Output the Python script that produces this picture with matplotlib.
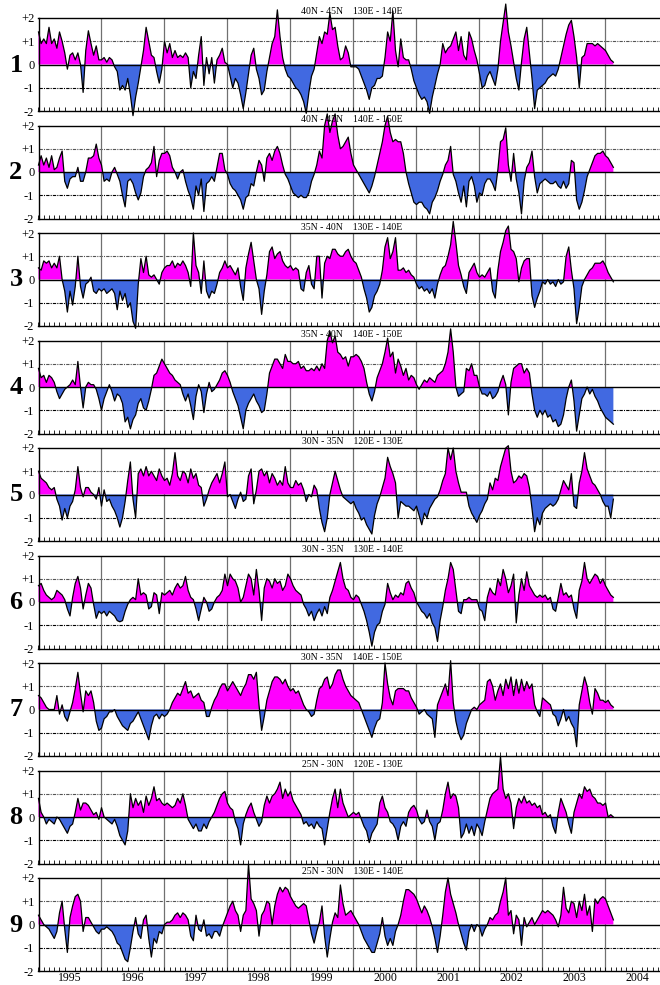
import numpy as np
import matplotlib.pyplot as plt

# títulos de cada painel (faixa de latitude / longitude)
titulos = ['40N - 45N    130E - 140E', '40N - 45N    140E - 150E',
           '35N - 40N    130E - 140E', '35N - 40N    140E - 150E',
           '30N - 35N    120E - 130E', '30N - 35N    130E - 140E',
           '30N - 35N    140E - 150E', '25N - 30N    120E - 130E',
           '25N - 30N    130E - 140E']
anos = ['1995', '1996', '1997', '1998', '1999', '2000', '2001', '2002', '2003', '2004']

# anomalias, 24 valores por ano (meio mês), jan/1995 até fev/2004
p1 = [1.4, 0.9, 1.1, 0.9, 1.6, 0.9, 1.1, 0.7, 1.4, 1.0, 0.5, -0.2, 0.4, 0.5, 0.2, 0.5, 0.0, -1.2, 0.6, 1.45, 0.9, 0.4, 0.8, 0.2,
      0.2, 0.3, 0.1, 0.3, 0.2, -0.1, -0.3, -1.1, -0.9, -1.1, -0.6, -1.3, -2.2, -1.4, -0.8, -0.1, 0.6, 1.6, 1.0, 0.4, 0.3, -0.3, -0.8, -0.2,
      1.0, 0.5, 0.9, 0.3, 0.6, 0.3, 0.4, 0.3, 0.5, 0.3, -1.0, -0.3, -0.6, 0.4, 1.2, -0.9, 0.3, -0.4, 0.3, -0.8, 0.2, 0.4, 0.7, 0.1,
      0.0, -0.5, -1.0, -0.6, -0.8, -1.3, -1.9, -1.2, -0.4, 0.4, 0.7, -0.2, -0.6, -1.3, -1.1, -0.3, 0.3, 0.9, 1.2, 2.35, 1.2, 0.3, -0.2, -0.5,
      -0.6, -0.8, -1.0, -1.1, -1.3, -1.6, -2.1, -1.2, -0.5, -0.2, 0.5, 1.2, 0.9, 1.4, 1.3, 2.2, 1.5, 1.6, 0.8, 0.2, 0.3, 0.8, 0.5, -0.1,
      -0.1, -0.1, -0.2, -0.5, -0.8, -1.1, -1.5, -1.0, -0.9, -0.6, -0.6, -0.5, 0.3, 1.4, 1.0, 2.3, 0.6, -0.1, 1.1, 0.3, 0.2, 0.2, -0.2, -0.7,
      -1.0, -1.3, -1.5, -1.4, -1.6, -2.1, -1.4, -0.9, -0.4, 0.0, 0.9, 0.5, 0.7, 0.8, 1.1, 1.4, 0.6, 1.2, 0.4, 0.2, 1.4, 1.1, 0.6, 0.2,
      -0.4, -1.0, -0.9, -0.5, -0.3, -0.6, -0.9, -0.2, 1.0, 1.8, 2.6, 1.4, 0.8, 0.1, -0.6, -1.1, 0.1, 1.1, 1.6, 0.5, -0.6, -1.9, -1.1, -1.0,
      -0.9, -0.8, -0.6, -0.5, -0.4, -0.5, -0.2, 0.3, 0.8, 1.3, 1.7, 1.9, 1.2, 0.3, -1.0, 0.3, 0.4, 0.9, 0.9, 0.9, 0.8, 0.9, 0.8, 0.7,
      0.6, 0.4, 0.2, 0.1]
p2 = [0.3, 0.7, 0.3, 0.6, 0.2, 0.7, 0.1, 0.2, 0.6, 0.9, -0.4, -0.7, -0.3, -0.2, -0.2, 0.2, -0.4, -0.4, 0.0, 0.6, 0.6, 0.7, 1.2, 0.6,
      0.3, -0.4, -0.3, -0.4, 0.0, 0.2, -0.1, -0.4, -1.0, -1.5, -0.4, -0.3, -0.5, -0.9, -1.2, -0.9, -0.2, 0.1, 0.2, 0.4, 1.1, -0.2, 0.5, 0.8,
      0.8, 0.9, 0.7, 0.2, 0.0, -0.3, 0.0, 0.1, -0.4, -0.8, -1.1, -1.6, -0.6, -1.0, -0.3, -1.7, -0.5, -0.4, -0.2, -0.4, 0.2, 0.8, 0.8, 0.1,
      -0.1, -0.5, -0.7, -0.8, -1.0, -1.2, -1.6, -1.1, -1.0, -0.5, -0.6, 0.0, 0.5, 0.3, -0.4, 0.6, 0.8, 0.5, 0.9, 1.1, 0.8, 0.3, -0.1, -0.3,
      -0.6, -0.9, -1.0, -1.1, -1.0, -1.1, -1.1, -0.9, -0.4, -0.1, 0.3, 0.9, 0.6, 2.0, 2.5, 1.7, 2.2, 2.5, 1.6, 1.0, 1.1, 1.3, 1.5, 0.8,
      0.3, 0.1, -0.1, -0.3, -0.5, -0.7, -0.9, -0.6, -0.2, 0.3, 0.8, 1.3, 2.0, 2.4, 1.7, 1.3, 1.4, 1.3, 1.3, 0.8, 0.0, -0.5, -0.9, -1.3,
      -1.4, -1.3, -1.3, -1.5, -1.6, -1.8, -1.3, -1.1, -0.8, -0.4, -0.1, 0.3, 0.5, 1.1, -0.1, -0.4, -0.9, -1.3, -0.6, -1.5, -0.4, -0.2, -0.6, -1.3,
      -0.9, -1.0, -0.5, -0.3, -0.3, -0.5, -0.8, 0.1, 1.3, 1.4, 1.9, 0.3, -0.4, 0.8, -0.3, -0.9, -1.8, -0.4, 0.2, 0.4, 0.9, -0.2, -0.9, -0.5,
      -0.4, -0.3, -0.4, -0.5, -0.5, -0.4, -0.6, -0.7, -0.4, -0.7, -0.5, 0.5, 0.4, -1.2, -1.6, -1.3, -0.8, -0.2, 0.1, 0.4, 0.7, 0.8, 0.8, 0.9,
      0.7, 0.6, 0.4, 0.2]
p3 = [0.5, 0.4, 0.8, 0.7, 0.8, 0.5, 0.7, 0.5, 1.0, 0.0, -0.5, -1.4, -0.5, -1.1, -0.3, 1.0, -0.3, -0.8, -0.2, -0.1, 0.1, -0.5, -0.6, -0.4,
      -0.5, -0.4, -0.6, -0.5, -0.4, -0.6, -1.3, -0.5, -0.9, -0.6, -1.2, -1.0, -1.8, -2.1, -0.2, 0.9, 0.3, 1.0, 0.2, 0.1, 0.2, 0.0, -0.2, 0.3,
      0.5, 0.6, 0.6, 0.8, 0.5, 0.7, 0.6, 0.8, 0.6, 0.3, -0.3, 2.0, 0.6, 0.3, -0.6, 0.8, -0.5, -0.8, -0.5, -0.6, -0.2, 0.3, 0.5, 0.8,
      0.5, 0.6, 0.4, 0.2, 0.5, -0.3, -0.9, 0.5, 1.1, 1.6, 0.8, 0.0, -0.4, -1.5, -0.5, 0.2, 1.2, 1.4, 0.9, 1.1, 1.2, 0.8, 0.6, 0.5,
      0.6, 0.4, 0.5, 0.4, -0.4, -0.5, 0.3, 0.6, -0.2, -0.4, 1.0, 1.0, -0.8, 0.7, 1.0, 0.9, 1.3, 1.3, 1.1, 1.0, 1.0, 1.2, 1.3, 1.0,
      0.8, 0.7, 0.4, 0.1, -0.4, -0.8, -1.4, -1.2, -0.7, -0.5, -0.2, 0.4, 1.4, 1.8, 0.9, 1.2, 1.8, 0.4, 0.4, 0.5, 0.3, 0.4, 0.2, 0.1,
      -0.2, -0.4, -0.3, -0.5, -0.4, -0.6, -0.4, -0.8, -0.2, 0.2, 0.5, 0.6, 1.0, 1.5, 2.5, 1.6, 0.6, 0.2, -0.3, -0.6, 0.3, 0.5, 0.7, 0.3,
      0.1, 0.2, 0.1, 0.3, 0.5, -0.5, -0.8, 0.4, 1.2, 1.6, 2.1, 2.3, 1.3, 1.2, 0.9, -0.1, 0.5, 0.8, 0.9, 0.9, -0.7, -1.2, -0.8, -0.5,
      -0.1, -0.2, 0.0, -0.2, -0.1, -0.3, 0.0, -0.2, -0.1, 1.0, 1.4, 0.4, -0.4, -1.9, -1.2, -0.3, 0.0, 0.2, 0.4, 0.5, 0.7, 0.7, 0.7, 0.8,
      0.6, 0.3, 0.1, -0.1]
p4 = [0.8, 0.4, 0.5, 0.2, 0.5, 0.4, 0.2, -0.2, -0.5, -0.3, -0.1, 0.0, 0.1, 0.3, 0.1, 1.1, 0.0, -0.9, 0.0, 0.2, 0.1, 0.1, -0.1, -0.5,
      -1.0, -0.5, -0.2, 0.1, -0.2, -0.6, -0.3, -0.4, -0.7, -1.5, -1.3, -1.8, -1.4, -1.2, -0.7, -0.5, -0.9, -1.0, -0.6, -0.1, 0.5, 0.6, 0.9, 1.2,
      1.0, 0.8, 0.6, 0.5, 0.3, 0.2, 0.1, -0.3, -0.6, -0.3, -0.8, -1.4, -0.4, 0.1, -0.2, -1.1, -0.3, 0.2, -0.2, -0.1, 0.1, 0.3, 0.6, 0.7,
      0.5, 0.2, -0.2, -0.5, -0.8, -1.3, -1.8, -1.0, -0.7, -0.5, -0.3, -0.6, -0.8, -1.1, -1.0, -0.3, 0.6, 0.9, 1.2, 1.2, 1.0, 0.8, 1.4, 1.1,
      1.1, 1.0, 1.0, 1.1, 0.8, 0.9, 0.7, 0.7, 0.8, 0.7, 0.9, 0.7, 1.0, 0.8, 2.0, 2.4, 1.9, 2.2, 1.5, 1.4, 1.2, 1.3, 0.9, 1.3,
      1.3, 1.4, 1.3, 1.1, 0.8, 0.2, -0.3, -0.6, -0.2, 0.4, 0.7, 1.0, 1.5, 2.1, 1.3, 1.5, 0.6, 1.2, 0.9, 0.5, 0.8, 0.3, 0.5, 0.4,
      0.1, -0.1, 0.1, 0.3, 0.2, 0.4, 0.3, 0.2, 0.5, 0.6, 0.7, 1.0, 1.5, 2.5, 1.5, 0.0, -0.4, -0.3, -0.2, 0.8, 0.7, 1.0, 0.5, 0.5,
      0.0, -0.3, -0.3, -0.4, -0.2, -0.5, -0.4, -0.2, 0.2, 0.5, 0.1, -1.2, 0.2, 0.8, 0.9, 1.0, 1.0, 0.6, 0.8, 0.6, -0.3, -1.0, -1.3, -1.0,
      -1.2, -1.0, -1.3, -1.2, -1.5, -1.4, -1.7, -1.6, -1.2, -0.5, 0.0, 0.3, -0.6, -1.9, -1.2, -0.5, -0.3, 0.0, -0.3, -0.1, -0.4, -0.6, -0.9, -1.1,
      -1.3, -1.4, -1.5, -1.6]
p5 = [1.0, 0.7, 0.6, 0.5, 0.3, 0.2, 0.3, -0.2, -0.5, -1.1, -0.6, -1.0, -0.5, -0.3, 0.2, 1.2, 0.3, -0.1, 0.3, 0.3, 0.1, 0.0, -0.2, 0.3,
      -0.5, 0.2, -0.3, -0.2, -0.5, -0.7, -1.0, -1.4, -1.0, -0.3, 0.6, 1.4, -0.2, -1.0, 0.9, 1.1, 0.8, 1.2, 0.8, 1.0, 0.8, 0.6, 1.1, 0.8,
      0.6, 0.7, 0.4, 0.9, 1.8, 0.8, 0.6, 1.0, 0.9, 0.5, 1.1, 0.7, 0.9, 0.4, 0.3, -0.5, -0.2, 0.2, 0.5, 0.7, 0.9, 0.5, 0.9, 1.4,
      -0.1, 0.0, -0.3, -0.6, -0.2, 0.1, -0.3, -0.2, 0.8, 1.1, -0.4, 0.2, 1.0, 1.1, 0.8, 1.0, 0.5, 0.9, 0.7, 0.4, 0.6, 0.4, 1.2, 0.5,
      0.3, 0.3, 0.6, 0.4, 0.5, 0.2, -0.3, 0.0, -0.1, 0.4, 0.2, -0.6, -1.2, -1.6, -1.0, 0.0, 0.5, 1.0, 0.6, 0.2, -0.1, -0.2, -0.3, -0.4,
      -0.3, -0.6, -0.8, -1.1, -1.0, -1.3, -1.5, -1.7, -0.9, -0.4, -0.1, 0.3, 0.7, 1.6, 1.2, 0.9, 0.5, -1.0, -0.3, -0.4, -0.5, -0.5, -0.6, -0.7,
      -0.5, -0.9, -1.3, -0.8, -1.0, -0.6, -0.4, -0.2, -0.1, 0.2, 0.6, 0.9, 2.0, 1.5, 2.0, 1.0, 0.5, 0.1, 0.1, 0.1, -0.5, -0.8, -1.0, -1.2,
      -0.9, -0.7, -0.4, -0.2, 0.5, 0.2, 0.7, 0.6, 1.2, 1.6, 2.0, 2.1, 1.0, 0.5, 0.6, 0.8, 0.7, 0.9, 0.8, 0.3, -0.6, -1.6, -1.0, -1.3,
      -0.8, -0.6, -0.5, -0.4, -0.5, -0.4, -0.2, 0.2, 0.6, 0.4, 0.2, 0.9, -0.5, -0.6, 0.5, 1.0, 1.8, 1.1, 0.8, 0.5, 0.4, 0.2, 0.0, -0.3,
      -0.5, -0.5, -1.0, -0.2]
p6 = [0.7, 0.8, 0.5, 0.3, 0.2, 0.1, 0.2, 0.5, 0.4, 0.3, 0.1, -0.3, -0.6, 0.2, 0.8, 1.1, 0.6, -0.3, 0.3, 0.8, 0.6, -0.1, -0.7, -0.4,
      -0.5, -0.4, -0.6, -0.4, -0.5, -0.6, -0.8, -0.85, -0.8, -0.4, -0.1, 0.1, 0.2, 0.1, 1.0, 0.3, 0.4, 0.3, -0.3, -0.2, 0.4, 0.3, -0.5, 0.4,
      0.3, 0.4, 0.5, 0.3, 0.6, 0.8, 0.6, 0.7, 1.1, 0.5, 0.2, 0.1, -0.3, -0.8, -0.3, 0.2, 0.0, -0.4, -0.3, 0.0, 0.2, 0.3, 0.5, 1.2,
      0.7, 1.2, 1.0, 0.9, 0.6, 0.0, 0.2, 0.7, 1.2, 1.0, 0.3, 1.4, 0.5, -0.8, 0.6, 1.0, 0.9, 0.6, 1.0, 0.8, 0.9, 0.5, 0.7, 1.2,
      1.0, 0.7, 0.5, 0.4, 0.3, -0.1, -0.3, -0.6, -0.4, -0.8, -0.5, -0.3, -0.6, -0.2, -0.5, 0.2, 0.5, 0.9, 1.3, 1.7, 1.0, 0.6, 0.5, 0.2,
      0.1, 0.3, 0.2, -0.1, -0.4, -0.8, -1.3, -1.9, -1.3, -1.0, -0.9, -0.4, -0.1, 0.8, 0.4, 0.1, 0.3, 0.2, 0.4, 0.3, 0.8, 0.9, 0.6, 0.4,
      0.0, -0.2, -0.4, -0.5, -0.7, -0.5, -0.9, -1.1, -1.7, -0.8, -0.2, 0.5, 1.0, 1.7, 1.4, 0.5, -0.4, -0.5, 0.1, 0.1, 0.2, 0.1, 0.1, 0.1,
      -0.3, -0.4, -0.8, 0.2, 0.6, 0.4, 0.3, 1.0, 0.7, 1.4, 1.0, 0.4, 0.7, 1.2, -0.9, 0.3, 1.0, 0.5, 1.3, 0.7, 0.5, 0.3, 0.2, 0.3,
      0.2, 0.3, 0.1, 0.2, -0.3, -0.4, 0.2, 0.8, 0.3, 0.4, 0.2, 0.3, -0.3, -0.7, 0.5, 0.9, 1.7, 1.0, 0.8, 1.0, 1.2, 1.1, 0.8, 1.0,
      0.7, 0.5, 0.3, 0.2]
p7 = [0.6, 0.5, 0.3, 0.1, 0.0, 0.0, 0.0, 0.6, -0.2, 0.2, -0.3, -0.5, -0.1, 0.3, 0.9, 1.6, 0.7, -0.1, 0.8, 0.6, 0.8, 0.3, -0.5, -0.9,
      -0.8, -0.4, -0.3, -0.1, -0.1, 0.0, -0.3, -0.5, -0.7, -0.8, -0.9, -0.6, -0.5, -0.3, -0.1, -0.4, -0.7, -1.0, -1.3, -0.7, -0.3, -0.2, -0.4, -0.2,
      -0.3, -0.2, 0.0, 0.3, 0.5, 0.7, 0.6, 0.9, 1.2, 0.7, 0.8, 0.5, 0.6, 0.7, 0.4, 0.3, -0.3, -0.3, 0.1, 0.4, 0.6, 0.9, 1.1, 1.1,
      0.8, 1.0, 1.2, 1.0, 0.8, 0.6, 0.9, 1.1, 1.5, 1.5, 1.3, 1.6, 0.2, -0.9, -0.3, 0.4, 0.8, 1.2, 1.4, 1.4, 1.3, 1.1, 1.3, 1.0,
      0.8, 0.9, 0.7, 0.8, 0.5, 0.2, 0.0, -0.1, -0.3, -0.2, 0.4, 0.9, 1.0, 1.3, 1.4, 0.9, 1.1, 1.5, 1.7, 1.7, 1.3, 1.0, 0.8, 0.6,
      0.5, 0.4, 0.3, 0.0, -0.3, -0.6, -0.9, -1.2, -0.8, -0.5, -0.4, 0.3, 2.0, 1.1, 0.5, 0.2, 0.8, 0.9, 0.9, 0.9, 0.8, 0.8, 0.5, 0.3,
      0.1, -0.2, -0.1, 0.0, -0.2, -0.3, -0.4, -1.2, 0.2, 0.5, 0.8, 1.1, 0.6, 2.1, 0.3, -0.5, -1.0, -1.3, -1.1, -0.6, -0.3, 0.0, 0.1, 0.0,
      0.2, 0.3, 0.4, 1.2, 1.3, 1.0, 0.4, 0.8, 1.1, 0.6, 1.3, 0.9, 1.4, 0.6, 1.3, 0.7, 1.3, 0.8, 1.2, 0.9, 1.1, 0.2, -0.1, -0.3,
      0.5, 0.4, 0.3, 0.2, -0.2, -0.3, -0.7, -0.4, 0.0, -0.5, -0.3, -0.6, -0.8, -1.6, 0.2, 0.8, 1.4, 1.0, 0.3, -0.2, 0.9, 0.7, 0.4, 0.4,
      0.3, 0.4, 0.2, 0.1]
p8 = [0.8, 0.2, 0.0, -0.3, -0.1, -0.2, -0.3, 0.0, -0.1, -0.3, -0.5, -0.7, -0.4, -0.3, 0.2, 0.8, 0.3, 0.6, 0.6, 0.5, 0.3, 0.1, 0.2, -0.1,
      0.4, 0.0, -0.1, -0.2, -0.3, -0.1, -0.4, -0.8, -1.0, -1.2, -0.6, 1.0, 0.4, 0.8, 0.5, 0.7, 0.2, 0.9, 0.5, 0.8, 1.3, 0.7, 0.8, 0.6,
      0.5, 0.6, 0.5, 0.4, 0.5, 0.8, 0.6, 1.0, 0.5, -0.1, -0.3, -0.5, -0.3, -0.6, -0.6, -0.3, -0.5, -0.2, 0.0, 0.2, 0.5, 0.8, 1.0, 1.1,
      0.6, 0.4, 0.3, -0.2, -0.5, -1.2, -0.3, 0.1, 0.4, 0.6, 0.2, -0.1, -0.4, -0.2, 0.5, 0.9, 0.6, 0.9, 1.0, 1.2, 1.5, 0.8, 1.2, 0.9,
      1.1, 0.7, 0.5, 0.3, 0.1, -0.3, -0.2, -0.4, -0.3, -0.5, -0.2, -0.4, -0.5, -1.2, -0.5, 0.2, 0.8, 1.2, 0.4, 1.2, 0.6, 0.3, 0.0, 0.1,
      0.2, 0.1, 0.2, -0.1, -0.4, -0.6, -1.1, -0.7, -0.5, -0.3, 0.6, 0.9, 0.4, 0.2, -0.2, -0.3, -0.5, -1.0, -0.4, -0.2, -0.4, 0.2, 0.4, 0.5,
      0.3, -0.1, -0.3, -0.2, 0.3, -0.2, -0.4, -1.0, -0.3, -0.2, 0.3, 1.0, 1.5, 0.8, 1.0, 0.9, 0.4, -0.9, -0.7, -0.3, -0.7, -0.4, -0.8, -0.3,
      -0.5, -0.8, -0.2, 0.3, 0.8, 1.0, 1.1, 1.2, 2.6, 1.2, 0.8, 1.0, 0.6, -0.5, 0.4, 0.8, 0.6, 0.9, 0.6, 0.7, 0.5, 0.6, 0.4, 0.5,
      0.1, 0.2, 0.0, 0.1, -0.4, -0.7, 0.2, 0.8, 0.5, 0.2, -0.3, -0.7, 0.2, 0.6, 1.0, 0.8, 1.3, 1.1, 1.2, 0.9, 0.8, 0.6, 0.6, 0.5,
      0.6, 0.0, 0.1, 0.0]
p9 = [0.4, 0.2, 0.0, -0.1, -0.2, -0.4, -0.6, -0.3, 0.5, 1.0, -0.2, -1.2, 0.3, 0.8, 1.2, 1.3, 1.0, -0.3, 0.3, 0.3, 0.1, -0.1, -0.3, -0.4,
      -0.2, -0.2, -0.1, -0.2, -0.3, -0.5, -0.8, -0.9, -1.2, -1.5, -1.6, -1.0, -0.3, 0.3, -0.4, -0.6, 0.2, 0.4, -0.6, -1.4, -0.6, -0.8, -0.3, -0.4,
      0.0, 0.1, 0.1, 0.2, 0.4, 0.5, 0.3, 0.5, 0.4, 0.2, -0.5, -0.7, 0.4, -0.2, -0.3, 0.2, -0.5, -0.4, -0.6, -0.3, -0.3, -0.5, -0.1, 0.2,
      0.5, 0.8, 1.0, 0.6, 0.4, -0.3, 0.4, 0.6, 2.6, 1.1, 0.9, 0.6, -0.5, 0.4, 0.6, 1.0, 0.9, 0.0, 0.8, 1.3, 1.6, 1.4, 1.6, 1.5,
      1.2, 1.0, 0.8, 0.7, 0.8, 0.9, 0.8, 0.2, -0.4, -0.8, -0.3, 0.1, 0.8, -0.5, -1.4, -0.6, 0.1, 0.5, 0.3, 1.7, 0.9, 0.4, 0.5, 0.6,
      0.4, 0.2, 0.0, -0.3, -0.6, -0.8, -1.0, -1.2, -1.2, -0.8, -0.4, 0.3, -0.5, -0.9, -0.6, -0.9, -0.3, 0.0, 0.4, 1.0, 1.5, 1.5, 1.4, 1.3,
      1.1, 0.8, 0.5, 0.8, 0.6, 0.3, -0.1, -0.6, -1.2, -0.5, 0.4, 1.4, 2.0, 1.3, 0.9, 0.5, 0.0, -0.4, -0.8, -1.1, -0.3, 0.0, -0.3, 0.0,
      -0.1, -0.5, -0.2, 0.0, 0.3, 0.2, 0.4, 0.5, 1.0, 1.4, 2.0, 0.4, 0.6, -0.4, 0.4, 0.2, -0.9, 0.3, -0.1, 0.1, 0.3, 0.0, 0.2, 0.4,
      0.6, 0.5, 0.6, 0.5, 0.4, 0.2, -0.1, 0.4, 1.6, 0.7, 0.5, 1.0, 0.9, 0.3, 1.0, 0.6, 1.3, 0.4, 0.8, -0.3, 1.1, 0.9, 1.1, 1.2,
      1.1, 0.8, 0.5, 0.2]

series = [p1, p2, p3, p4, p5, p6, p7, p8, p9]
t = 1995 + np.arange(len(p1)) / 24

W, H = 660, 985
esq = 38.5        # borda esquerda dos painéis (px)
passo = 107.5     # distância entre painéis (px)
alt = 93          # altura de cada painel (px)
fonte = 'Liberation Serif'

fig = plt.figure(figsize=(W / 100, H / 100), dpi=100)

for k, (vals, titulo) in enumerate(zip(series, titulos)):
    topo = 18 + k * passo
    ax = fig.add_axes([esq / W, 1 - (topo + alt) / H, 1 - esq / W, alt / H])
    v = np.array(vals)

    ax.fill_between(t, v, 0, where=v >= 0, interpolate=True, color='#ff00ff', lw=0, clip_on=False, zorder=2)
    ax.fill_between(t, v, 0, where=v <= 0, interpolate=True, color='#4169e1', lw=0, clip_on=False, zorder=2)
    ax.plot(t, v, color='black', lw=0.9, clip_on=False, zorder=3)

    # linhas de referência ficam atrás do preenchimento, como no original
    ax.axhline(0, color='black', lw=1.0, zorder=4)
    ax.axhline(1, color='#555555', lw=0.8, ls=(0, (3, 1, 1, 1)), zorder=1)
    ax.axhline(-1, color='black', lw=0.8, ls=(0, (3, 1, 1, 1)), zorder=1)
    for ano in range(1996, 2005):
        ax.axvline(ano, color='#707070', lw=0.9, zorder=1)

    ax.set_xlim(1995, 1995 + (W - esq) / 63.0)
    ax.set_ylim(-2, 2)

    ax.set_yticks([2, 1, 0, -1, -2])
    ax.set_yticklabels(['+2', '+1', '0', '-1', '-2'], fontsize=9, family=fonte)
    ax.tick_params(axis='y', length=0, pad=3)

    ax.set_xticks(np.arange(1995, 2004.9, 1 / 12), minor=True)
    ax.set_xticks(np.arange(1995.5, 2005, 1))
    ax.tick_params(axis='x', which='minor', direction='in', length=3, width=0.6)
    if k == 8:
        ax.set_xticklabels(anos, fontsize=8.5, family=fonte)
        ax.tick_params(axis='x', which='major', length=0, pad=0.5)
    else:
        ax.tick_params(axis='x', which='major', length=0, labelbottom=False)

    ax.spines['right'].set_visible(False)
    for lado in ['top', 'bottom', 'left']:
        ax.spines[lado].set_linewidth(1.0)

    fig.text(16 / W, 1 - (topo + 47) / H, str(k + 1), fontsize=19, fontweight='bold',
             family=fonte, ha='center', va='center')
    fig.text(352 / W, 1 - (topo - 6) / H, titulo, fontsize=7, family=fonte,
             ha='center', va='center')

fig.savefig('out.png', dpi=100)
